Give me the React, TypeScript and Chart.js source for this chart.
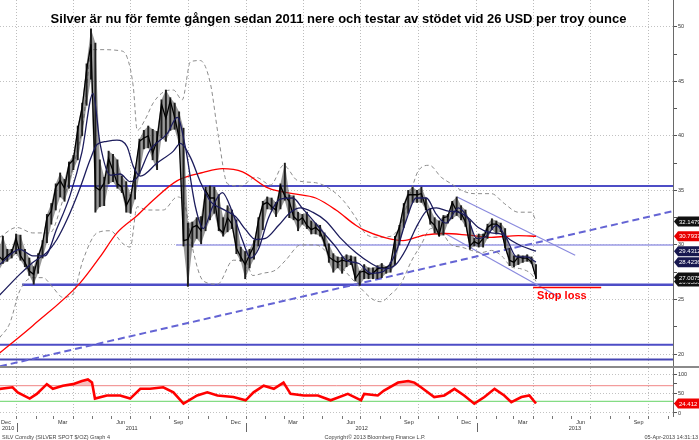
import React, { useEffect, useRef } from "react";
import { Chart, registerables } from "chart.js";

Chart.register(...registerables);

// ---------------- data ----------------
// weekly bars, first bar = Friday 3 Dec 2010, one entry per week
const weekOrigin = Date.UTC(2010, 11, 3);

const priceClose = [
  29.0, 28.6, 29.0, 29.3, 30.6, 29.0, 28.4, 27.6, 27.3, 28.9,
  30.1, 32.5, 33.1, 35.3, 35.9, 35.2, 37.4, 37.8, 40.6, 42.6,
  46.0, 48.4, 35.3, 35.0, 35.7, 37.9, 36.8, 35.6, 35.3, 33.6,
  34.4, 36.7, 39.5, 39.8, 40.0, 38.4, 39.6, 42.9, 41.6, 43.2,
  41.7, 39.8, 30.4, 30.5, 31.6, 31.8, 31.3, 35.0, 34.3, 34.3,
  31.5, 31.1, 32.5, 31.9, 29.7, 28.9, 28.2, 29.1, 29.9, 32.2,
  33.7, 33.9, 33.5, 33.2, 35.4, 34.5, 34.0, 32.6, 32.2, 32.5,
  31.8, 31.4, 31.6, 31.2, 30.2, 28.9, 28.6, 28.4, 28.6, 28.5,
  28.7, 26.9, 27.5, 27.6, 27.3, 27.4, 27.8, 27.9, 27.9, 28.2,
  30.6, 31.6, 33.6, 34.6, 34.6, 34.6, 34.7, 33.4, 32.2, 31.8,
  30.9, 32.5, 32.6, 33.9, 33.1, 32.9, 32.1, 29.9, 30.3, 30.1,
  30.6, 31.6, 31.9, 31.9, 31.6, 29.8, 28.6, 28.4, 28.9, 28.8,
  28.8, 28.4, 27.0075,
];
const priceHigh = [
  29.5, 30.8, 29.6, 29.6, 31.0, 30.9, 29.6, 28.8, 28.0, 29.2,
  30.4, 32.8, 33.8, 35.6, 36.6, 36.0, 37.6, 38.2, 40.9, 43.0,
  46.6, 49.8, 48.5, 37.8, 36.2, 38.6, 38.3, 37.8, 36.3, 35.8,
  34.6, 37.0, 39.7, 40.5, 40.9, 40.6, 40.4, 43.3, 44.2, 43.5,
  43.0, 42.2, 40.7, 32.0, 32.1, 32.5, 32.6, 35.3, 35.4, 35.3,
  34.6, 32.5, 33.6, 33.2, 32.3, 29.8, 29.4, 29.6, 30.4, 32.5,
  34.0, 34.4, 34.3, 33.9, 35.6, 37.5, 34.6, 34.5, 33.0, 32.8,
  33.0, 32.2, 32.0, 31.8, 31.1, 30.1, 29.2, 28.9, 28.9, 29.1,
  29.0, 28.9, 27.6, 28.2, 27.9, 27.9, 28.1, 28.3, 28.0, 28.4,
  30.8, 31.8, 33.8, 35.0, 35.3, 35.0, 35.3, 34.3, 33.3, 32.5,
  32.2, 32.7, 32.8, 34.0, 34.4, 33.6, 33.2, 32.2, 30.6, 31.0,
  31.0, 31.9, 32.4, 32.2, 32.0, 31.5, 29.7, 29.0, 29.1, 29.0,
  29.1, 28.9, 28.2,
];
const priceLow = [
  27.6, 28.3, 28.5, 28.8, 29.2, 28.6, 28.0, 27.2, 26.4, 27.4,
  28.8, 30.2, 31.9, 33.2, 34.4, 34.0, 35.2, 36.9, 37.8, 40.0,
  42.8, 45.2, 33.0, 33.5, 33.6, 35.6, 35.8, 35.2, 34.8, 33.0,
  32.9, 34.2, 36.5, 38.8, 38.9, 37.8, 36.9, 39.8, 39.5, 40.5,
  40.6, 39.2, 29.9, 26.2, 29.8, 30.6, 30.1, 31.3, 32.3, 32.9,
  31.3, 30.8, 31.2, 31.5, 29.2, 28.5, 26.9, 27.9, 28.7, 29.9,
  31.4, 33.3, 33.2, 32.6, 33.3, 34.1, 32.5, 32.3, 31.3, 31.9,
  31.5, 31.0, 31.0, 30.8, 29.9, 28.4, 27.5, 27.9, 27.4, 28.0,
  28.2, 26.7, 26.3, 26.9, 26.9, 26.9, 26.9, 27.0, 27.4, 27.5,
  28.2, 30.0, 31.6, 32.9, 33.9, 33.9, 33.9, 33.2, 31.9, 31.1,
  30.8, 30.9, 32.0, 32.4, 32.7, 32.3, 31.7, 29.6, 29.9, 29.8,
  29.8, 30.6, 31.4, 31.0, 31.2, 29.7, 28.1, 28.0, 28.2, 28.4,
  28.5, 28.3, 26.9,
];

// overlays: positions in weeks since the first bar, values in USD
const ma20Weeks = [0.27, 4.83, 7.79, 10.52, 13.26, 16.22, 18.95, 21.46, 23.05, 25.33, 27.6, 29.9, 31.5, 34.4, 38.3, 40.6, 42.4, 44.7, 46.5, 48.6, 50.8, 53.1, 55.4, 57.2, 59.0, 61.3, 64.0, 66.8, 69.1, 71.3, 73.6, 76.6, 78.9, 81.8, 84.6, 87.5, 90.2, 92.5, 94.8, 97.1, 99.4, 101.6, 104.4, 106.6, 108.5, 110.7, 113.0, 115.3, 117.6, 119.9, 122];
const ma20Vals = [28.2, 29.6, 29.0, 29.0, 31.5, 34.5, 38.5, 43.9, 39.3, 36.4, 36.5, 35.8, 36.2, 38.7, 40.2, 41.7, 39.0, 33.5, 31.5, 33.5, 34.8, 33.0, 30.4, 28.8, 29.6, 32.5, 34.2, 34.3, 33.3, 32.3, 31.2, 29.8, 28.6, 28.3, 27.4, 27.6, 29.3, 32.2, 34.3, 34.3, 32.8, 32.0, 33.4, 32.4, 30.6, 30.8, 31.8, 30.6, 28.9, 28.9, 28.4236];

const ma50Weeks = [0.27, 4.83, 7.79, 10.98, 13.26, 15.54, 18.5, 20.8, 22.37, 24.6, 26.9, 29.2, 30.6, 32.2, 36.0, 39.7, 41.3, 43.6, 45.8, 48.1, 50.8, 53.8, 56.1, 58.4, 60.6, 63.6, 66.3, 68.6, 71.3, 74.3, 77.7, 81.1, 84.6, 87.5, 90.2, 92.5, 94.8, 97.1, 99.4, 102.1, 104.4, 106.6, 108.9, 111.9, 114.2, 116.4, 118.7, 122];
const ma50Vals = [25.4, 27.3, 28.4, 29.3, 30.5, 32.3, 35.2, 37.8, 39.2, 39.5, 39.6, 39.0, 37.2, 36.3, 37.5, 38.6, 39.3, 38.0, 35.8, 34.0, 33.3, 32.6, 31.4, 30.5, 30.6, 31.8, 33.0, 33.4, 33.0, 32.2, 30.6, 29.3, 28.3, 27.8, 28.2, 29.6, 31.6, 33.1, 33.4, 33.1, 33.0, 32.5, 31.6, 31.1, 31.0, 30.4, 29.9, 29.4312];

const ma200Weeks = [0.27, 7.79, 18.5, 23.05, 26.9, 31.5, 35.1, 40.6, 46.5, 50.8, 55.4, 61.3, 66.8, 72.0, 76.6, 81.1, 83.0, 87.5, 91.8, 96.6, 101.2, 106.6, 111.9, 118.0, 122];
const ma200Vals = [20.1, 22.6, 26.5, 28.9, 31.1, 32.7, 34.1, 35.9, 36.65, 37.0, 36.7, 35.2, 34.7, 34.3, 33.2, 31.8, 31.35, 30.7, 30.4, 30.9, 31.05, 30.9, 30.7, 30.85, 30.7937];

const bandUpWeeks = [0.27, 4.15, 7.79, 11.66, 14.62, 16.9, 19.18, 21.23, 23.05, 27.6, 29.2, 30.6, 31.5, 33.3, 35.1, 37.4, 39.7, 41.7, 43.6, 45.8, 48.1, 49.9, 52.0, 54.9, 58.4, 61.8, 64.7, 67.9, 72.0, 75.0, 78.2, 81.1, 83.4, 86.1, 89.1, 91.4, 93.7, 95.3, 97.8, 100.5, 102.8, 105.1, 108.0, 111.9, 114.8, 118.0, 121.0, 122];
const bandUpVals = [30.7, 31.6, 31.1, 31.1, 34.1, 37.1, 41.1, 47.9, 47.9, 47.8, 47.2, 44.5, 40.5, 41.5, 43.0, 44.0, 44.2, 43.3, 46.8, 46.9, 44.8, 40.0, 35.6, 35.4, 36.2, 35.5, 37.3, 35.9, 35.7, 35.2, 34.1, 32.5, 31.0, 30.7, 30.8, 32.0, 35.0, 36.8, 37.3, 36.2, 35.6, 35.0, 34.7, 34.7, 33.8, 33.0, 33.0, 32.1479];

const bandLoWeeks = [0.27, 2.55, 4.83, 7.79, 10.07, 12.35, 14.62, 16.9, 19.18, 22.37, 25.33, 28.3, 29.9, 31.5, 33.76, 37.4, 40.6, 42.4, 44.0, 46.5, 49.7, 53.3, 56.1, 57.7, 60.0, 62.9, 65.2, 68.6, 72.0, 75.4, 78.9, 82.3, 85.0, 86.8, 89.1, 91.4, 93.7, 95.9, 98.2, 100.5, 102.8, 105.1, 107.3, 109.6, 111.9, 114.2, 116.4, 118.7, 121.0, 122];
const bandLoVals = [21.5, 22.8, 25.8, 27.0, 27.0, 26.1, 25.2, 25.5, 28.6, 31.1, 31.3, 30.1, 29.8, 33.5, 33.2, 33.2, 34.4, 33.5, 29.8, 26.7, 26.4, 28.6, 28.5, 27.2, 27.4, 27.7, 28.6, 30.0, 30.0, 29.0, 27.5, 26.0, 25.0, 24.8, 25.5, 26.5, 28.5, 30.0, 31.5, 31.2, 30.0, 29.8, 29.5, 29.3, 29.5, 29.0, 28.0, 27.8, 27.3, 26.65];

const rsiWeeks = [0.27, 3.2, 4.37, 7.1, 8.7, 10.98, 12.35, 14.62, 16.9, 18.95, 20.3, 21.23, 21.9, 24.6, 27.6, 29.9, 32.2, 34.4, 37.4, 39.7, 42.0, 45.1, 47.4, 49.7, 53.3, 56.1, 57.9, 60.2, 62.5, 64.7, 66.3, 69.3, 72.5, 75.4, 79.3, 82.3, 83.0, 86.1, 87.5, 90.7, 93.0, 94.4, 95.9, 98.9, 101.2, 103.5, 105.7, 108.0, 110.3, 112.6, 114.8, 116.4, 118.7, 120.5, 122];
const rsiVals = [61.7, 66, 53, 37, 49, 74, 62, 70, 74, 82, 86, 78, 37, 45, 45, 37, 62, 62, 66, 53, 24, 45, 53, 45, 41, 32.5, 53, 70, 62, 78, 49, 45, 45, 32.5, 49, 32.5, 49, 45, 57.5, 78, 82, 78, 66, 41, 45, 62, 45, 24, 41, 62, 45, 28, 41, 45, 24.412];
const rsiUpper = 70;
const rsiLower = 30;

// drawn lines (support / resistance / trend / channel / stop loss)
const levelVals = [35.4, 30.0, 26.35, 20.85, 19.5];
const levelFromWeeks = [15.56, 40.3, 5.34, 0, 0];
const trendWeeks = [0.35, 153.1];
const trendVals = [18.87, 33.1];
const chanUpWeeks = [104.1, 130.9];
const chanUpVals = [34.4, 29.05];
const chanLoWeeks = [100.7, 127.5];
const chanLoVals = [31.2, 25.15];
const stopWeeks = [121.35, 136.8];
const stopVals = [26.1, 26.1];

// axes / text
const priceTicks = [20, 22.5, 25, 27.5, 30, 32.5, 35, 37.5, 40, 42.5, 45, 47.5, 50];
const rsiTicks = [0, 25, 50, 75, 100];
const monthNames = ["Jan", "Feb", "Mar", "Apr", "May", "Jun", "Jul", "Aug", "Sep", "Oct", "Nov", "Dec"];
const labelledMonths = [11, 2, 5, 8];
const years = [2010, 2011, 2012, 2013];
const titleText = "Silver är nu för femte gången sedan 2011 nere och testar av stödet vid 26 USD per troy ounce";
const stopText = "Stop loss";
const footLeft = "SILV Comdty (SILVER SPOT $/OZ) Graph 4";
const footMid = "Copyright© 2013 Bloomberg Finance L.P.";
const footRight = "05-Apr-2013 14:31:13";

// ---------------- helpers ----------------
const X_MIN = 0.35;
const X_MAX = 153.1;
const Y_MIN = 18.72;
const Y_MAX = 52.45;
const R_MIN = -7.7;
const R_MAX = 115.4;
const FONT = '"Liberation Sans", Arial, sans-serif';
const W = 699;

const toWeek = (y: number, m: number, d: number) => (Date.UTC(y, m, d) - weekOrigin) / (7 * 86400000);
const pts = (ws: number[], vs: number[]) => ws.map((w, i) => ({ x: w, y: vs[i] }));

type XT = { value: number; kind: "q" | "m" | "l"; label: string };
function buildXTicks(): XT[] {
  const out: XT[] = [];
  for (let y = 2010; y <= 2013; y++) {
    for (let m = 0; m < 12; m++) {
      const s = toWeek(y, m, 1);
      if (s >= X_MIN && s <= X_MAX) out.push({ value: s, kind: m % 3 === 0 ? "q" : "m", label: "" });
      const c = toWeek(y, m, 15);
      if (labelledMonths.includes(m) && c >= X_MIN && c <= X_MAX) out.push({ value: c, kind: "l", label: monthNames[m] });
    }
  }
  return out.sort((a, b) => a.value - b.value);
}

function line(data: any[], color: string, width: number, extra: any = {}) {
  return {
    type: "line",
    data,
    borderColor: color,
    backgroundColor: color,
    borderWidth: width,
    pointRadius: 0,
    pointHoverRadius: 0,
    fill: false,
    tension: 0,
    ...extra,
  };
}

function xScale(defs: XT[], withLabels: boolean) {
  return {
    type: "linear",
    min: X_MIN,
    max: X_MAX,
    offset: false,
    afterBuildTicks: (s: any) => {
      s.ticks = defs.map((d) => ({ value: d.value }));
    },
    afterFit: (s: any) => {
      s.height = withLabels ? 24 : 0;
      s.paddingLeft = 0;
      s.paddingRight = 0;
    },
    ticks: {
      display: withLabels,
      autoSkip: false,
      maxRotation: 0,
      minRotation: 0,
      padding: 0,
      color: "#333",
      font: { size: 5.5, family: FONT },
      callback: (_v: any, i: number) => (defs[i] ? defs[i].label : ""),
    },
    grid: {
      offset: false,
      color: (c: any) => (defs[c.index] && defs[c.index].kind === "q" ? "#bdbdbd" : "rgba(0,0,0,0)"),
      tickColor: (c: any) => (defs[c.index] && defs[c.index].kind !== "l" ? "#777" : "rgba(0,0,0,0)"),
      drawTicks: withLabels,
      tickLength: 3,
      lineWidth: 1,
    },
    border: { display: false, dash: [1, 2] },
  };
}

function yScale(min: number, max: number, ticks: number[], major: number) {
  return {
    type: "linear",
    position: "right",
    min,
    max,
    afterBuildTicks: (s: any) => {
      s.ticks = ticks.map((v) => ({ value: v }));
    },
    afterFit: (s: any) => {
      s.width = 26;
      s.paddingTop = 0;
      s.paddingBottom = 0;
    },
    ticks: {
      autoSkip: false,
      padding: 1,
      color: "#333",
      font: { size: 5.5, family: FONT },
      callback: (v: any) => (Math.abs(v % major) < 1e-6 ? String(v) : ""),
    },
    grid: {
      color: (c: any) => (c.tick && Math.abs(c.tick.value % major) < 1e-6 ? "#c2c2c2" : "rgba(0,0,0,0)"),
      tickColor: "#555",
      tickLength: 4,
      lineWidth: 1,
    },
    border: { display: true, color: "#6a6a6a", width: 1, dash: [1, 2] },
  };
}

function tag(ctx: CanvasRenderingContext2D, x0: number, y: number, text: string, bg: string) {
  ctx.save();
  ctx.fillStyle = bg;
  ctx.beginPath();
  ctx.moveTo(x0, y);
  ctx.lineTo(x0 + 4, y - 5);
  ctx.lineTo(W, y - 5);
  ctx.lineTo(W, y + 5);
  ctx.lineTo(x0 + 4, y + 5);
  ctx.closePath();
  ctx.fill();
  ctx.fillStyle = "#fff";
  ctx.font = `6px ${FONT}`;
  ctx.textBaseline = "middle";
  ctx.textAlign = "left";
  ctx.fillText(text, x0 + 5, y + 0.5);
  ctx.restore();
}

const NAVY = "#1c1c5c";
const BLUE = "#4d4dc6";

export default function App() {
  const mainRef = useRef<HTMLCanvasElement>(null);
  const rsiRef = useRef<HTMLCanvasElement>(null);

  useEffect(() => {
    const defs = buildXTicks();
    const last = (a: number[]) => a[a.length - 1];

    const levelLook = [
      { c: BLUE, w: 2.2 },
      { c: "#9b9be6", w: 1.6 },
      { c: BLUE, w: 2.6 },
      { c: BLUE, w: 2.2 },
      { c: "#4646b4", w: 2.2 },
    ];

    const mainPlugin = {
      id: "mainDecor",
      afterDraw(chart: any) {
        const { ctx, chartArea, scales } = chart;
        const ys = scales.y;
        const xs = scales.x;
        ctx.save();
        ctx.fillStyle = "#ff0000";
        ctx.font = `bold 11px ${FONT}`;
        ctx.textBaseline = "alphabetic";
        ctx.fillText(stopText, xs.getPixelForValue(stopWeeks[0]) + 4, ys.getPixelForValue(stopVals[0]) + 12);
        ctx.restore();
        const x0 = chartArea.right + 1;
        const items: [number[], string, number][] = [
          [bandLoVals, "#111", 4],
          [bandUpVals, "#111", 4],
          [ma200Vals, "#e80000", 4],
          [ma50Vals, "#17174f", 4],
          [ma20Vals, "#17174f", 4],
          [priceClose, "#111", 4],
        ];
        for (const [arr, bg, dp] of items) {
          const v = last(arr);
          tag(ctx, x0, ys.getPixelForValue(v), v.toFixed(dp), bg);
        }
        ctx.save();
        ctx.fillStyle = "#8a8a8a";
        ctx.fillRect(0, chartArea.bottom - 2, W, 2);
        ctx.restore();
      },
    };

    const main = new Chart(mainRef.current as HTMLCanvasElement, {
      type: "line",
      data: {
        datasets: [
          ...levelVals.map((v, i) =>
            line(
              [
                { x: levelFromWeeks[i], y: v },
                { x: X_MAX + 5, y: v },
              ],
              levelLook[i].c,
              levelLook[i].w,
              { order: 20 }
            )
          ),
          line(pts(trendWeeks, trendVals), "#6464d4", 2, { borderDash: [7, 4], order: 19 }),
          line(pts(chanUpWeeks, chanUpVals), "#8a8ade", 1.2, { order: 19 }),
          line(pts(chanLoWeeks, chanLoVals), "#8a8ade", 1.2, { order: 19 }),
          line(pts(bandUpWeeks, bandUpVals), "#8c8c8c", 1, { borderDash: [4, 3], cubicInterpolationMode: "monotone", order: 18 }),
          line(pts(bandLoWeeks, bandLoVals), "#8c8c8c", 1, { borderDash: [4, 3], cubicInterpolationMode: "monotone", order: 18 }),
          line(pts(ma200Weeks, ma200Vals), "#ff0000", 1.3, { cubicInterpolationMode: "monotone", order: 17 }),
          // weekly high/low envelope (dense daily bars in the original)
          line(priceHigh.map((h, i) => ({ x: i, y: h })), "rgba(0,0,0,0)", 0, {
            fill: { target: "+1" },
            backgroundColor: "rgba(70,70,70,0.55)",
            order: 16,
          }),
          line(priceLow.map((l, i) => ({ x: i, y: l })), "rgba(0,0,0,0)", 0, { order: 16 }),
          {
            type: "bar",
            data: priceHigh.map((h, i) => ({ x: i, y: [priceLow[i], h] })),
            backgroundColor: "#1e1e1e",
            borderWidth: 0,
            barThickness: 1.3,
            grouped: false,
            order: 15,
          },
          line(priceClose.map((c, i) => ({ x: i, y: c })), "#000", 1.3, { order: 14 }),
          line(pts(ma50Weeks, ma50Vals), NAVY, 1.3, { cubicInterpolationMode: "monotone", order: 13 }),
          line(pts(ma20Weeks, ma20Vals), NAVY, 1.3, { cubicInterpolationMode: "monotone", order: 12 }),
          line(pts(stopWeeks, stopVals), "#ff0000", 1.6, { order: 1 }),
        ] as any,
      },
      options: {
        animation: false,
        responsive: false,
        maintainAspectRatio: false,
        devicePixelRatio: 1,
        events: [],
        layout: { padding: 0 },
        plugins: { legend: { display: false }, tooltip: { enabled: false }, title: { display: false } },
        scales: {
          x: xScale(defs, false),
          y: yScale(Y_MIN, Y_MAX, priceTicks, 5),
        } as any,
      },
      plugins: [mainPlugin],
    });

    const rsiPlugin = {
      id: "rsiDecor",
      afterDraw(chart: any) {
        const { ctx, chartArea, scales } = chart;
        const xs = scales.x;
        const ys = scales.y;
        ctx.save();
        ctx.font = `5.5px ${FONT}`;
        ctx.fillStyle = "#333";
        ctx.textBaseline = "middle";
        for (const yr of years) {
          const a = Math.max(xs.getPixelForValue(toWeek(yr, 0, 1)), chartArea.left);
          const b = Math.min(xs.getPixelForValue(toWeek(yr + 1, 0, 1)), chartArea.right);
          if (b <= a) continue;
          if (b - a < 40) {
            ctx.textAlign = "left";
            ctx.fillText(String(yr), a + 2, 60);
          } else {
            ctx.textAlign = "center";
            ctx.fillText(String(yr), (a + b) / 2, 60);
          }
          const sx = xs.getPixelForValue(toWeek(yr, 0, 1));
          if (sx > chartArea.left && sx < chartArea.right) {
            ctx.fillStyle = "#666";
            ctx.fillRect(Math.round(sx), 55, 1, 9);
            ctx.fillStyle = "#333";
          }
        }
        ctx.fillStyle = "#444";
        ctx.textAlign = "left";
        ctx.fillText(footLeft, 2, 69);
        ctx.textAlign = "center";
        ctx.fillText(footMid, 375, 69);
        ctx.textAlign = "right";
        ctx.fillText(footRight, 698, 69);
        ctx.restore();
        const v = rsiVals[rsiVals.length - 1];
        tag(ctx, chartArea.right + 1, ys.getPixelForValue(v), v.toFixed(3), "#f00000");
      },
    };

    const rsi = new Chart(rsiRef.current as HTMLCanvasElement, {
      type: "line",
      data: {
        datasets: [
          line(
            [
              { x: X_MIN - 1, y: rsiUpper },
              { x: X_MAX + 1, y: rsiUpper },
            ],
            "#f08585",
            1,
            { order: 5 }
          ),
          line(
            [
              { x: X_MIN - 1, y: rsiLower },
              { x: X_MAX + 1, y: rsiLower },
            ],
            "#84dc84",
            1.2,
            { order: 5 }
          ),
          line(pts(rsiWeeks, rsiVals), "rgba(0,0,0,0)", 0, {
            fill: { target: { value: rsiLower }, above: "rgba(0,0,0,0)", below: "rgba(140,225,140,0.55)" },
            order: 3,
          }),
          line(pts(rsiWeeks, rsiVals), "#ff0000", 2.6, {
            fill: { target: { value: rsiUpper }, above: "rgba(240,150,150,0.6)", below: "rgba(0,0,0,0)" },
            order: 1,
          }),
        ] as any,
      },
      options: {
        animation: false,
        responsive: false,
        maintainAspectRatio: false,
        devicePixelRatio: 1,
        events: [],
        layout: { padding: 0 },
        plugins: { legend: { display: false }, tooltip: { enabled: false }, title: { display: false } },
        scales: {
          x: xScale(defs, true),
          y: yScale(R_MIN, R_MAX, rsiTicks, 50),
        } as any,
      },
      plugins: [rsiPlugin],
    });

    return () => {
      main.destroy();
      rsi.destroy();
    };
  }, []);

  return (
    <div style={{ position: "fixed", left: 0, top: 0, width: W, height: 440, background: "#fff", overflow: "hidden" }}>
      <canvas ref={mainRef} width={W} height={368} style={{ position: "absolute", left: 0, top: 0 }} />
      <canvas ref={rsiRef} width={W} height={72} style={{ position: "absolute", left: 0, top: 368 }} />
      <div
        style={{
          position: "absolute",
          left: 0,
          top: 12,
          width: 677,
          textAlign: "center",
          font: `bold 13px ${FONT}`,
          lineHeight: "13px",
          color: "#000",
          pointerEvents: "none",
          whiteSpace: "nowrap",
        }}
      >
        {titleText}
      </div>
    </div>
  );
}
